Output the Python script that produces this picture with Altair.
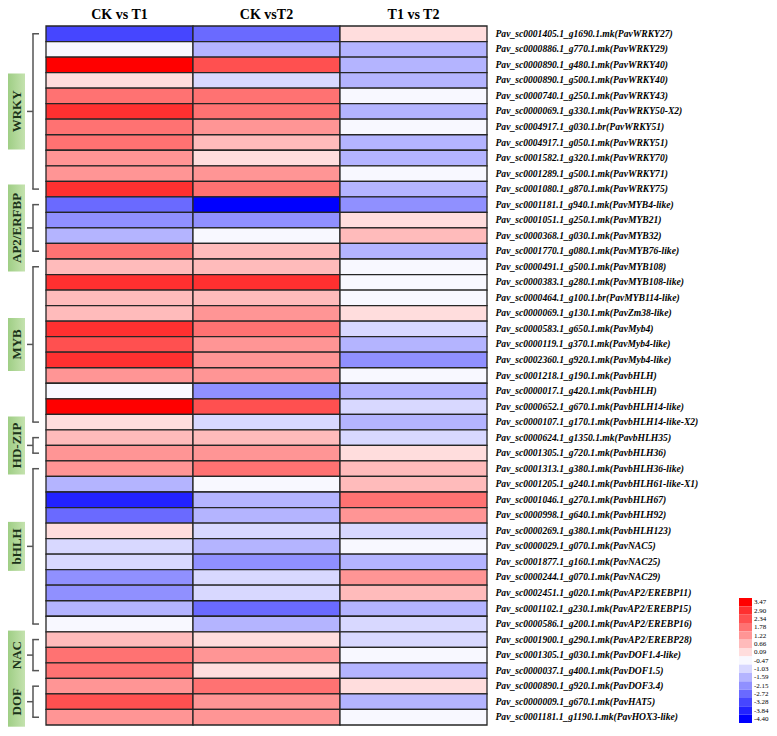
import altair as alt
import pandas as pd

columns = ["CK vs T1", "CK vsT2", "T1 vs T2"]

genes = [
    "Pav_sc0001405.1_g1690.1.mk(PavWRKY27)",
    "Pav_sc0000886.1_g770.1.mk(PavWRKY29)",
    "Pav_sc0000890.1_g480.1.mk(PavWRKY40)",
    "Pav_sc0000890.1_g500.1.mk(PavWRKY40)",
    "Pav_sc0000740.1_g250.1.mk(PavWRKY43)",
    "Pav_sc0000069.1_g330.1.mk(PavWRKY50-X2)",
    "Pav_sc0004917.1_g030.1.br(PavWRKY51)",
    "Pav_sc0004917.1_g050.1.mk(PavWRKY51)",
    "Pav_sc0001582.1_g320.1.mk(PavWRKY70)",
    "Pav_sc0001289.1_g500.1.mk(PavWRKY71)",
    "Pav_sc0001080.1_g870.1.mk(PavWRKY75)",
    "Pav_sc0001181.1_g940.1.mk(PavMYB4-like)",
    "Pav_sc0001051.1_g250.1.mk(PavMYB21)",
    "Pav_sc0000368.1_g030.1.mk(PavMYB32)",
    "Pav_sc0001770.1_g080.1.mk(PavMYB76-like)",
    "Pav_sc0000491.1_g500.1.mk(PavMYB108)",
    "Pav_sc0000383.1_g280.1.mk(PavMYB108-like)",
    "Pav_sc0000464.1_g100.1.br(PavMYB114-like)",
    "Pav_sc0000069.1_g130.1.mk(PavZm38-like)",
    "Pav_sc0000583.1_g650.1.mk(PavMyb4)",
    "Pav_sc0000119.1_g370.1.mk(PavMyb4-like)",
    "Pav_sc0002360.1_g920.1.mk(PavMyb4-like)",
    "Pav_sc0001218.1_g190.1.mk(PavbHLH)",
    "Pav_sc0000017.1_g420.1.mk(PavbHLH)",
    "Pav_sc0000652.1_g670.1.mk(PavbHLH14-like)",
    "Pav_sc0000107.1_g170.1.mk(PavbHLH14-like-X2)",
    "Pav_sc0000624.1_g1350.1.mk(PavbHLH35)",
    "Pav_sc0001305.1_g720.1.mk(PavbHLH36)",
    "Pav_sc0001313.1_g380.1.mk(PavbHLH36-like)",
    "Pav_sc0001205.1_g240.1.mk(PavbHLH61-like-X1)",
    "Pav_sc0001046.1_g270.1.mk(PavbHLH67)",
    "Pav_sc0000998.1_g640.1.mk(PavbHLH92)",
    "Pav_sc0000269.1_g380.1.mk(PavbHLH123)",
    "Pav_sc0000029.1_g070.1.mk(PavNAC5)",
    "Pav_sc0001877.1_g160.1.mk(PavNAC25)",
    "Pav_sc0000244.1_g070.1.mk(PavNAC29)",
    "Pav_sc0002451.1_g020.1.mk(PavAP2/EREBP11)",
    "Pav_sc0001102.1_g230.1.mk(PavAP2/EREBP15)",
    "Pav_sc0000586.1_g200.1.mk(PavAP2/EREBP16)",
    "Pav_sc0001900.1_g290.1.mk(PavAP2/EREBP28)",
    "Pav_sc0001305.1_g030.1.mk(PavDOF1.4-like)",
    "Pav_sc0000037.1_g400.1.mk(PavDOF1.5)",
    "Pav_sc0000890.1_g920.1.mk(PavDOF3.4)",
    "Pav_sc0000009.1_g670.1.mk(PavHAT5)",
    "Pav_sc0001181.1_g1190.1.mk(PavHOX3-like)",
]

ck_t1 = [-3.28, -0.47, 3.47, 0.09, 1.78, 2.90, 1.78, 1.78, 1.22, 1.22, 2.90,
         -2.72, -2.15, -1.59, 1.78,
         0.66, 2.90, 0.66, 0.66, 2.90, 2.34, 2.90, 1.22, -0.47, 3.47, 0.09,
         0.66, 1.22,
         1.22, -1.59, -3.84, -2.72, 0.09, -1.03, -1.03, -2.15, -2.15, -1.59, -0.47,
         0.66, 1.78, 1.78,
         1.22, 2.34, 1.22]
ck_t2 = [-2.72, -1.59, 2.34, -1.03, 1.78, 1.78, 1.22, 0.66, 0.09, 1.22, 1.78,
         -4.40, -2.15, -0.47, 0.66,
         0.66, 2.90, 0.66, 1.22, 1.78, 1.22, 1.22, 1.22, -2.15, 2.34, -1.03,
         0.66, 1.22,
         1.78, -0.47, -1.59, -1.59, -1.03, -1.59, -2.15, -1.03, -1.03, -2.72, -1.59,
         0.09, 1.22, 0.09,
         1.78, 1.22, 1.22]
t1_t2 = [0.09, -1.59, -1.59, -1.59, -0.47, -1.59, -0.47, -1.59, -1.59, -0.47, -1.59,
         -2.15, 0.09, 0.66, -1.59,
         -0.47, -0.47, -0.47, 0.09, -1.03, -1.59, -2.15, -0.47, -1.59, -1.03, -1.59,
         -1.03, 0.09,
         0.66, 0.66, 1.78, 1.22, -1.03, -0.47, -1.59, 1.22, 0.66, -1.59, -1.03,
         -1.03, -0.47, -1.59,
         0.09, -1.59, -0.47]

legend_levels = [3.47, 2.90, 2.34, 1.78, 1.22, 0.66, 0.09, -0.47, -1.03,
                 -1.59, -2.15, -2.72, -3.28, -3.84, -4.40]
legend_labels = ["3.47", "2.90", "2.34", "1.78", "1.22", "0.66", "0.09", "-0.47",
                 "-1.03", "-1.59", "-2.15", "-2.72", "-3.28", "-3.84", "-4.40"]
level_colors = ["#FF0000", "#FF3030", "#FF5050", "#FF7272", "#FF9595", "#FFBBBB",
                "#FFDDDD", "#F8F8FF", "#D8D8FF", "#B4B4FF", "#9090FF", "#6A6AFF",
                "#4646FF", "#2222FF", "#0000FF"]

groups = ["WRKY", "AP2/ERFBP", "MYB", "HD-ZIP", "bHLH", "NAC", "DOF"]
group_first = [1, 12, 16, 27, 29, 40, 43]
group_last = [11, 15, 26, 28, 39, 42, 45]

# ---- style / layout ----
W, H = 441, 699
N = len(genes)
ROW_H = H / N
BOX_PX = [76, 87, 53, 58, 49, 49, 50]
SERIF = "Liberation Serif"

rows = []
for col, vals in zip(columns, [ck_t1, ck_t2, t1_t2]):
    for g, v in zip(genes, vals):
        rows.append({"comparison": col, "gene": g, "value": v})
heat_df = pd.DataFrame(rows)

grp_df = pd.DataFrame({
    "group": groups,
    "top": [f - 0.5 for f in group_first],
    "bottom": [l - 0.5 for l in group_last],
    "mid": [(f + l) / 2 - 0.5 for f, l in zip(group_first, group_last)],
    "half": [b / 2 / ROW_H for b in BOX_PX],
})
grp_df["b0"] = grp_df["mid"] - grp_df["half"]
grp_df["b1"] = grp_df["mid"] + grp_df["half"]

leg_df = pd.DataFrame({"value": legend_levels, "label": legend_labels})

asc_levels = sorted(legend_levels)
thresholds = [(a + b) / 2 for a, b in zip(asc_levels[:-1], asc_levels[1:])]
color_scale = alt.Scale(type="threshold", domain=thresholds,
                        range=list(reversed(level_colors)))

heat = alt.Chart(heat_df).mark_rect(stroke="#262626", strokeWidth=1.3).encode(
    x=alt.X("comparison:N", sort=columns,
            scale=alt.Scale(paddingInner=0, paddingOuter=0),
            axis=alt.Axis(orient="top", title=None, labelAngle=0, domain=False,
                          ticks=False, tickSize=0, labelPadding=8,
                          labelBaseline="alphabetic", labelFont=SERIF,
                          labelFontWeight="bold", labelFontSize=14,
                          labelColor="black")),
    y=alt.Y("gene:N", sort=genes,
            scale=alt.Scale(paddingInner=0, paddingOuter=0),
            axis=alt.Axis(orient="right", title=None, domain=False, ticks=False,
                          tickSize=0, labelPadding=8, labelFont=SERIF,
                          labelFontStyle="italic", labelFontWeight="bold",
                          labelFontSize=9.6, labelLimit=400, labelColor="black")),
    color=alt.Color("value:Q", scale=color_scale, legend=None),
)

ann_scale = alt.Scale(domain=[0, N], reverse=True, nice=False, zero=False)
BR = "#555555"

base = alt.Chart(grp_df)
vline = base.mark_rule(color=BR, strokeWidth=1.5).encode(
    x=alt.value(-13),
    y=alt.Y("top:Q", scale=ann_scale, axis=None), y2="bottom:Q")
ttick = base.mark_rule(color=BR, strokeWidth=1.5).encode(
    x=alt.value(-13.75), x2=alt.value(-7),
    y=alt.Y("top:Q", scale=ann_scale, axis=None))
btick = base.mark_rule(color=BR, strokeWidth=1.5).encode(
    x=alt.value(-13.75), x2=alt.value(-7),
    y=alt.Y("bottom:Q", scale=ann_scale, axis=None))
mtick = base.mark_rule(color=BR, strokeWidth=1.5).encode(
    x=alt.value(-19), x2=alt.value(-13),
    y=alt.Y("mid:Q", scale=ann_scale, axis=None))

green = alt.Gradient(
    gradient="linear",
    stops=[alt.GradientStop(offset=0, color="#9fce85"),
           alt.GradientStop(offset=1, color="#c4e2ae")],
    x1=0, x2=1, y1=0, y2=0)
box = base.mark_rect(fill=green).encode(
    x=alt.value(-38), x2=alt.value(-21),
    y=alt.Y("b0:Q", scale=ann_scale, axis=None), y2="b1:Q")
glabel = base.mark_text(angle=270, font=SERIF, fontWeight="bold", fontSize=13,
                        color="#1b3319", align="center", baseline="middle").encode(
    x=alt.value(-29),
    y=alt.Y("mid:Q", scale=ann_scale, axis=None),
    text="group:N")

leg_y = alt.Y("label:N", sort=legend_labels, axis=None,
              scale=alt.Scale(range=[572, 697], paddingInner=0, paddingOuter=0))
leg_rect = alt.Chart(leg_df).mark_rect().encode(
    x=alt.value(693), x2=alt.value(706), y=leg_y,
    color=alt.Color("value:Q", scale=color_scale, legend=None))
leg_text = alt.Chart(leg_df).mark_text(align="left", baseline="middle", font=SERIF,
                                       fontSize=7, color="black").encode(
    x=alt.value(708), y=leg_y, text="label:N")

chart = alt.layer(heat, vline, ttick, btick, mtick, box, glabel, leg_rect, leg_text).resolve_scale(
    y="independent"
).properties(
    width=W, height=H,
    autosize=alt.AutoSizeParams(type="none"),
    padding={"left": 38, "top": 18, "right": 282, "bottom": 3},
).configure_view(strokeWidth=0)

chart.save("out.html", embed_options={"renderer": "svg", "actions": False})
